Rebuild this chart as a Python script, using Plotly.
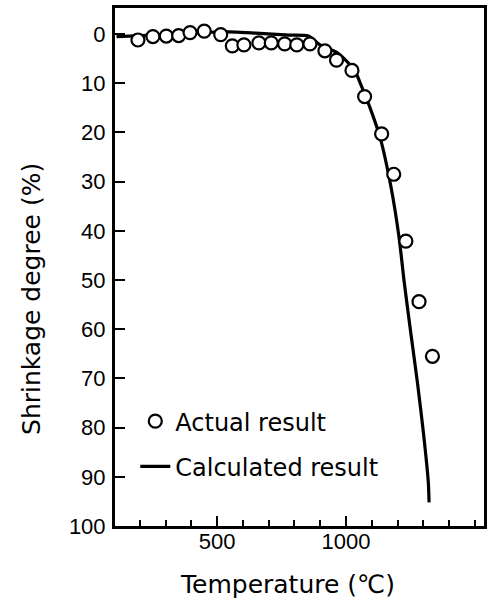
import plotly.graph_objects as go

# Actual (measured) results
actual_temp = [193, 251, 303, 351, 395, 450, 514, 559, 604, 662, 710, 762, 809, 860,
               918, 963, 1023, 1072, 1138, 1185, 1232, 1283, 1335]
actual_shrink = [1.2, 0.5, 0.4, 0.3, -0.3, -0.6, 0.1, 2.4, 2.2, 1.8, 1.8, 2.0, 2.2, 2.0,
                 3.4, 5.3, 7.4, 12.7, 20.3, 28.5, 42.1, 54.4, 65.5]

# Calculated results
calc_temp = [110, 300, 450, 520, 650, 780, 854, 899, 969, 1033, 1053, 1091, 1132,
             1174, 1206, 1226, 1251, 1277, 1300, 1319, 1322]
calc_shrink = [0.5, 0.1, -0.3, -0.5, -0.2, 0.2, 0.4, 2.2, 3.9, 7.3, 9.7, 14.7, 21.0,
               31.0, 41.5, 50.6, 60.7, 70.9, 81.0, 91.1, 95.2]

x_ticks = [500, 1000]
y_ticks = [0, 10, 20, 30, 40, 50, 60, 70, 80, 90, 100]

TITLE_FONT = dict(family="DejaVu Sans", size=25, color="black")
LEGEND_FONT = dict(family="DejaVu Sans", size=24, color="black")
TICK_FONT = dict(family="Liberation Sans", size=22, color="black")

fig = go.Figure()
fig.add_trace(go.Scatter(
    x=calc_temp, y=calc_shrink, mode="lines", name="Calculated result",
    line=dict(color="black", width=3.2, shape="spline", smoothing=0.6),
    legendgroup="b", legendrank=2,
))
fig.add_trace(go.Scatter(
    x=actual_temp, y=actual_shrink, mode="markers", name="Actual result",
    marker=dict(symbol="circle", size=13, color="white",
                line=dict(color="black", width=2.2)),
    legendgroup="a", legendrank=1,
))

fig.update_layout(
    width=490, height=598,
    margin=dict(l=115, r=3, t=8, b=72),
    paper_bgcolor="white", plot_bgcolor="white",
    showlegend=True,
    legend=dict(x=0.055, y=0.245, xanchor="left", yanchor="top",
                font=LEGEND_FONT, bgcolor="rgba(0,0,0,0)",
                traceorder="grouped", tracegroupgap=11,
                itemwidth=30),
    xaxis=dict(range=[104, 1535], showgrid=False, zeroline=False,
               showline=True, linecolor="black", linewidth=3, mirror=True,
               tickmode="array", tickvals=x_ticks, ticks="inside", ticklen=10,
               tickwidth=2, tickcolor="black", tickfont=TICK_FONT,
               ticklabelstandoff=-6,
               minor=dict(dtick=100, tick0=0, ticks="inside", ticklen=6,
                          tickwidth=2, tickcolor="black", showgrid=False)),
    yaxis=dict(range=[100, -5.3], showgrid=False, zeroline=False,
               showline=True, linecolor="black", linewidth=3, mirror=True,
               tickmode="array", tickvals=y_ticks, ticks="inside", ticklen=10,
               tickwidth=2, tickcolor="black", tickfont=TICK_FONT, ticklabelstandoff=2),
    annotations=[
        dict(text="Shrinkage degree (%)", xref="paper", yref="paper",
             x=-0.228, y=0.438, xanchor="center", yanchor="middle",
             textangle=-90, showarrow=False, font=TITLE_FONT),
        dict(text="Temperature (℃)", xref="paper", yref="paper",
             x=0.468, y=-0.112, xanchor="center", yanchor="middle",
             showarrow=False, font=TITLE_FONT),
    ],
)

fig.write_html("out.html")
